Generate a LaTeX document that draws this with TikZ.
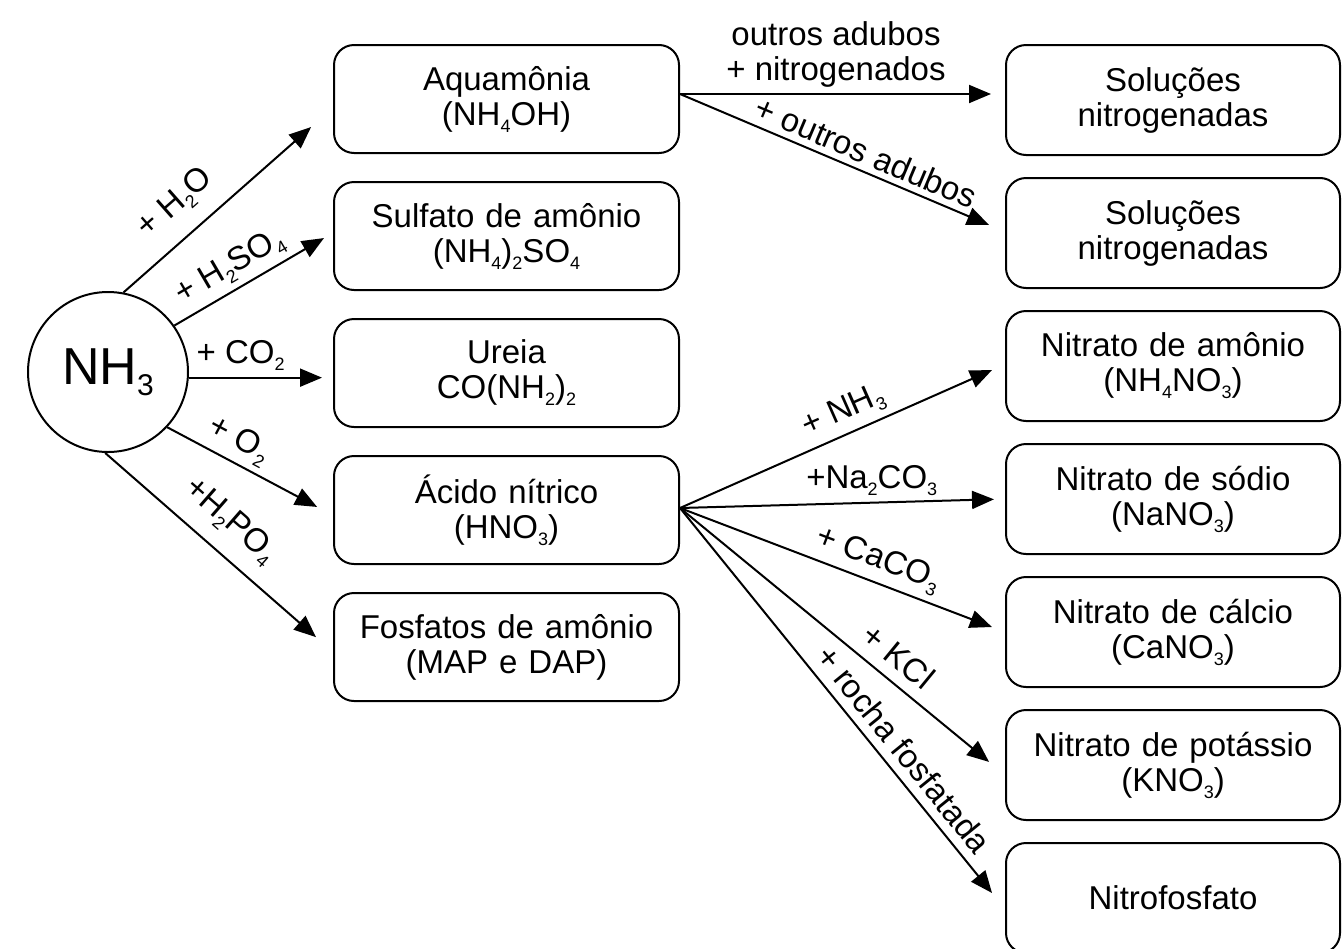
\documentclass[tikz,border=0pt]{standalone}
\usepackage{fontspec}
\setmainfont{Liberation Sans}
\usetikzlibrary{arrows.meta,positioning}
\newcommand{\sbs}[1]{\raisebox{-3.5pt}{\fontsize{9}{9}\selectfont #1}}

\begin{document}
\begin{tikzpicture}[x=0.5pt, y=-0.5pt, node distance=13.5pt,
    box/.style={rectangle, draw, line width=1pt, text width=172.5pt, inner xsep=0pt, text centered, rounded corners=10pt, minimum height=54pt, font=\fontsize{16.5}{17.5}\selectfont},
    outbox/.style={box, text width=167pt, minimum height=55pt},
    arr/.style={-{Triangle[length=11pt,width=9pt]}, line width=1pt},
    lbl/.style={font=\fontsize{16.5}{17.5}\selectfont, inner sep=3pt, align=center}]
    \useasboundingbox (0,0) rectangle (1343,948);

    \node[circle, draw, line width=1pt, minimum size=80pt, inner sep=0pt, font=\fontsize{26}{26}\selectfont] (nh3) at (108,372) {NH\raisebox{-5.5pt}{\fontsize{15}{15}\selectfont 3}};

    \node[box] (aqua) at (506.5,99) {Aquamônia\\(NH\sbs{4}OH)};
    \node[box, below=of aqua] (sulf) {Sulfato de amônio\\(NH\sbs{4})\sbs{2}SO\sbs{4}};
    \node[box, below=of sulf] (ureia) {Ureia\\CO(NH\sbs{2})\sbs{2}};
    \node[box, below=of ureia] (acido) {Ácido nítrico\\(HNO\sbs{3})};
    \node[box, below=of acido] (fosf) {Fosfatos de amônio\\(MAP e DAP)};

    \node[outbox] (sol1) at (1173,100) {Soluções\\nitrogenadas};
    \node[outbox, below=10.5pt of sol1] (sol2) {Soluções\\nitrogenadas};
    \node[outbox, below=10.5pt of sol2] (namon) {Nitrato de amônio\\(NH\sbs{4}NO\sbs{3})};
    \node[outbox, below=10.5pt of namon] (nsod) {Nitrato de sódio\\(NaNO\sbs{3})};
    \node[outbox, below=10.5pt of nsod] (ncal) {Nitrato de cálcio\\(CaNO\sbs{3})};
    \node[outbox, below=10.5pt of ncal] (npot) {Nitrato de potássio\\(KNO\sbs{3})};
    \node[outbox, below=10.5pt of npot] (nfos) {Nitrofosfato};

    \coordinate (aq-out) at ([yshift=2.5pt]aqua.east);
    \coordinate (hno3-out) at ([yshift=1pt]acido.east);

    \draw[arr, shorten >=14.6pt] (nh3.79) -- ([yshift=-4.35pt]aqua.west) node[lbl, sloped, above=5pt, pos=0.35] {+ H\sbs{2}O};
    \draw[arr, shorten >=5.2pt] (nh3.35) -- ([yshift=1.6pt]sulf.west) node[lbl, sloped, above, pos=0.42] {+ H\sbs{2}SO\sbs{4}};
    \draw[arr, shorten >=5.5pt] (nh3.-4) -- (nh3.-4 -| ureia.west) node[lbl, above, pos=0.36] {+ CO\sbs{2}};
    \draw[arr, shorten >=9pt] (nh3.-43.5) -- ([yshift=-2.7pt]acido.west) node[lbl, sloped, above, pos=0.37] {+ O\sbs{2}};
    \draw[arr, shorten >=11.3pt] (nh3.-92) -- ([yshift=-2.5pt]fosf.west) node[lbl, sloped, above=4.5pt, pos=0.46] {+H\sbs{2}PO\sbs{4}};

    \draw[arr, shorten >=7pt] (aq-out) -- (aq-out -| sol1.west) node[lbl, above, pos=0.48] {outros adubos\\+ nitrogenados};
    \draw[arr, shorten >=8.7pt] (aq-out) -- ([yshift=0.65pt]sol2.west) node[lbl, sloped, above, pos=0.55] {+ outros adubos};

    \draw[arr, shorten >=7.1pt] (hno3-out) -- ([yshift=0.85pt]namon.west) node[lbl, sloped, above, pos=0.53] {+ NH\sbs{3}};
    \draw[arr, shorten >=5.5pt] (hno3-out) -- (nsod.west) node[lbl, above, pos=0.59] {+Na\sbs{2}CO\sbs{3}};
    \draw[arr, shorten >=7pt] (hno3-out) -- (ncal.west) node[lbl, sloped, above, pos=0.585] {+ CaCO\sbs{3}};
    \draw[arr, shorten >=10.3pt] (hno3-out) -- ([yshift=-5pt]npot.west) node[lbl, sloped, above=2.5pt, pos=0.626] {+ KCl};
    \draw[arr, shorten >=10.3pt] (hno3-out) -- ([yshift=-5.5pt]nfos.west) node[lbl, sloped, above=1.5pt, pos=0.636] {+ rocha fosfatada};
\end{tikzpicture}
\end{document}
